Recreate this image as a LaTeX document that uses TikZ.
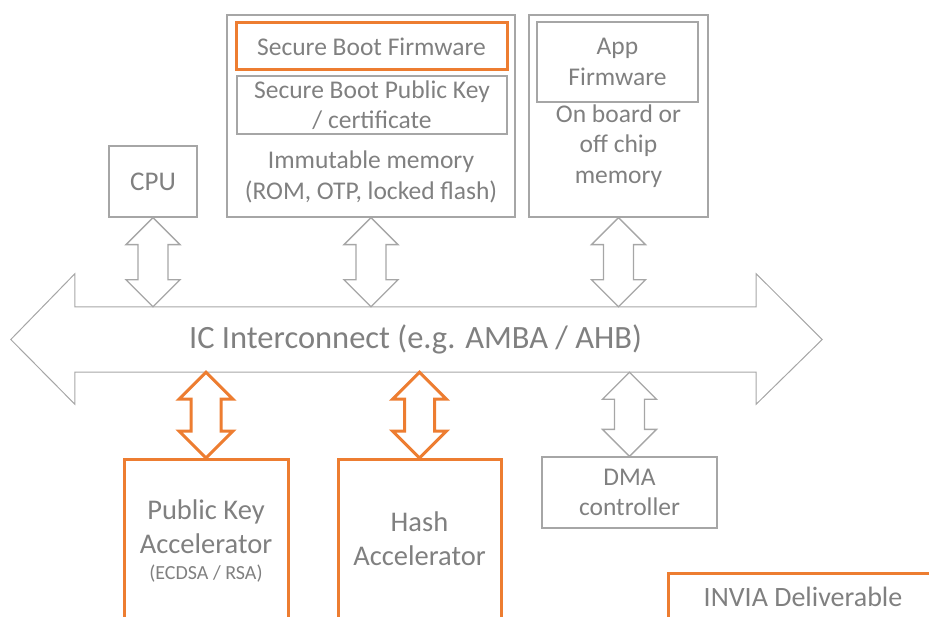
\documentclass[tikz,border=0pt]{standalone}
\usepackage{fontspec}
\setmainfont{Carlito}
\usetikzlibrary{calc}

\definecolor{linegray}{HTML}{A6A6A6}
\definecolor{textgray}{HTML}{808080}
\definecolor{invorange}{HTML}{ED7D31}

\newcommand{\medfont}{\fontsize{25.5}{30.5}\selectfont}
\newcommand{\bigfont}{\fontsize{28.5}{34}\selectfont}

\tikzset{
  box/.style={draw=linegray,line width=1.3pt,text=textgray,align=center,inner sep=0pt,font=\medfont},
  obox/.style={box,draw=invorange,line width=3pt},
  lbl/.style={text=textgray,align=center,inner sep=0pt,font=\medfont},
  garrow/.style={draw=linegray,line width=1.3pt,line join=miter},
  oarrow/.style={draw=invorange,line width=3pt,line join=miter},
}

% block double arrow, from top point #2 down to bottom point #3
\newcommand{\blockarrow}[3]{%
  \draw[#1] let \p1=(#2), \p2=(#3) in
    (\x1,\y1) -- (\x1+27pt,\y1-27pt) -- (\x1+15pt,\y1-27pt) -- (\x1+15pt,\y2+27pt)
    -- (\x1+27pt,\y2+27pt) -- (\x1,\y2) -- (\x1-27pt,\y2+27pt) -- (\x1-15pt,\y2+27pt)
    -- (\x1-15pt,\y1-27pt) -- (\x1-27pt,\y1-27pt) -- cycle;}

\begin{document}
\begin{tikzpicture}[x=1pt,y=-1pt]
  \useasboundingbox (0,0) rectangle (929,617);
  \clip (0,0) rectangle (929,617);

  % top row
  \node[box,minimum width=88pt,minimum height=71pt,font=\fontsize{27}{32}\selectfont] (cpu) at (153,181.5) {CPU};
  \node[box,minimum width=288pt,minimum height=202pt] (immem) at (371,116) {};
  \node[obox,minimum width=271pt,minimum height=47pt] (sbfw) at (371.5,46.5) {Secure Boot Firmware};
  \node[box,minimum width=270pt,minimum height=58pt] (sbkey) at (372,105) {Secure Boot Public Key\\/ certificate};
  \node[lbl] (immemtext) at (371,177) {Immutable memory\\(ROM, OTP, locked flash)};
  \node[box,minimum width=179pt,minimum height=202pt] (appmem) at (618.5,116) {};
  \node[box,minimum width=161pt,minimum height=80pt] (appfw) at (617.5,62) {App\\Firmware};
  \node[lbl] (appmemtext) at (618.5,146) {On board or\\off chip\\memory};

  % interconnect
  \node[inner sep=0pt,minimum width=681pt,minimum height=65pt,text=textgray,
        font=\fontsize{32.5}{38}\selectfont] (bus) at (415.5,339.5) {IC Interconnect (e.g. AMBA / AHB)};
  \draw[garrow,line width=1pt] (bus.north west) -- (bus.north east) -- ++(0,-33)
    -- ($(bus.east)+(66,0)$) -- ($(bus.south east)+(0,32)$) -- (bus.south east)
    -- (bus.south west) -- ++(0,32) -- ($(bus.west)+(-64,0)$)
    -- ($(bus.north west)+(0,-33)$) -- cycle;

  % bottom row
  \node[obox,minimum width=164pt,minimum height=200pt,anchor=north] (pka) at (206,458) {};
  \node[lbl,font=\bigfont] (pkatext) at (206,527) {Public Key\\Accelerator};
  \node[lbl,font=\fontsize{20}{24}\selectfont] (pkasub) at (206,574) {(ECDSA / RSA)};
  \node[obox,minimum width=163pt,minimum height=200pt,anchor=north] (hash) at (419.5,458) {};
  \node[lbl,font=\bigfont] (hashtext) at (419.5,539) {Hash\\Accelerator};
  \node[box,minimum width=175pt,minimum height=71pt] (dma) at (629.5,492.5) {DMA\\controller};
  \node[obox,minimum width=300pt,minimum height=100pt,anchor=north west] (invia) at (667,572) {};
  \node[lbl,font=\fontsize{28}{32}\selectfont] (inviatext) at (803,597) {INVIA Deliverable};

  % bus connections
  \blockarrow{garrow}{cpu.south}{cpu.south |- bus.north}
  \blockarrow{garrow}{immem.south}{immem.south |- bus.north}
  \blockarrow{garrow}{appmem.south}{appmem.south |- bus.north}
  \blockarrow{oarrow}{pka.north |- bus.south}{pka.north}
  \blockarrow{oarrow}{hash.north |- bus.south}{hash.north}
  \blockarrow{garrow}{dma.north |- bus.south}{dma.north}
\end{tikzpicture}
\end{document}
